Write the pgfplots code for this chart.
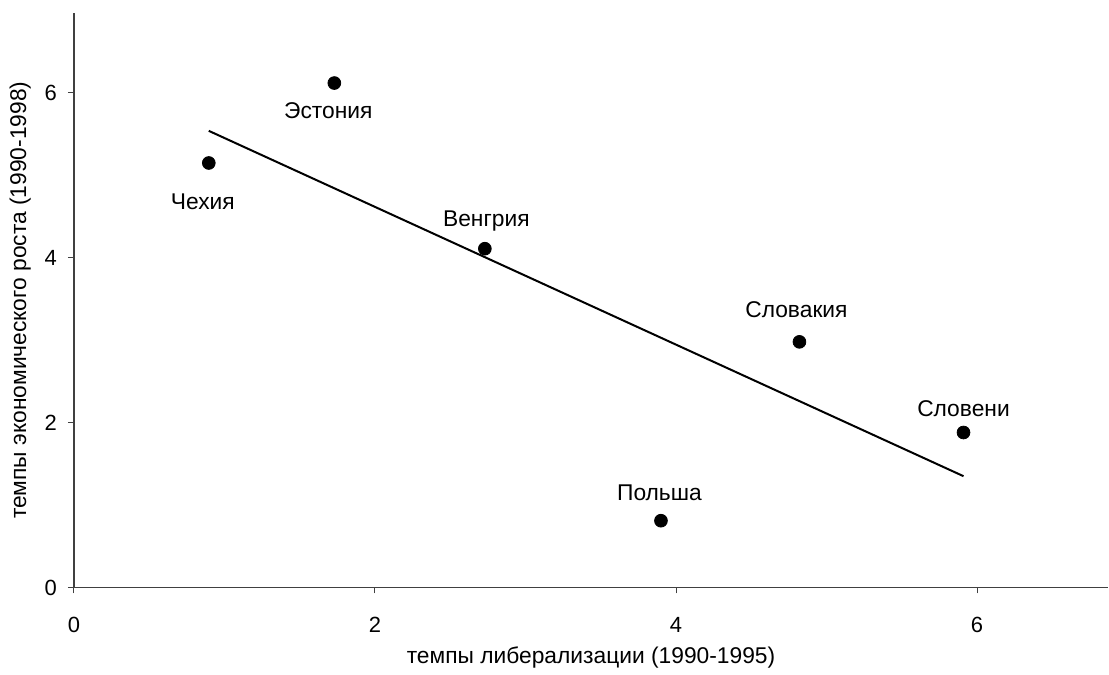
\documentclass[border=0pt]{standalone}
\usepackage{fontspec}
\setmainfont{Liberation Sans}
\usepackage{pgfplots}
\pgfplotsset{compat=1.18}
\begin{document}
\begin{tikzpicture}
\begin{axis}[
 scale only axis, width=517.5pt, height=287.5pt,
 xmin=0, xmax=6.87, ymin=0, ymax=6.97,
 axis lines=left,
 axis line style={-, black!75, line width=0.6pt},
 tick align=outside, major tick length=3pt,
 xtick={0,2,4,6}, ytick={0,2,4,6},
 tick style={black!75, line width=0.5pt},
 /pgf/number format/assume math mode=true,
 ticklabel style={font=\fontsize{11}{13}\selectfont},
 xticklabel style={yshift=-8.5pt},
 yticklabel style={xshift=-2pt},
 xlabel={темпы либерализации (1990-1995)},
 ylabel={темпы экономического роста (1990-1998)},
 label style={font=\fontsize{11.4}{13}\selectfont},
 clip=false,
]
\addplot[only marks, mark=*, mark size=3.2pt, black] coordinates {
 (0.896,5.15) (1.73,6.12) (2.73,4.11) (4.82,2.98) (5.91,1.88) (3.90,0.81)
};
\addplot[black, line width=1pt] coordinates {(0.896,5.54) (5.91,1.35)};
\node[font=\fontsize{11.4}{13}\selectfont] at (axis cs:0.856,4.68) {Чехия};
\node[font=\fontsize{11.4}{13}\selectfont] at (axis cs:1.69,5.79) {Эстония};
\node[font=\fontsize{11.4}{13}\selectfont] at (axis cs:2.74,4.44) {Венгрия};
\node[font=\fontsize{11.4}{13}\selectfont] at (axis cs:4.80,3.37) {Словакия};
\node[font=\fontsize{11.4}{13}\selectfont] at (axis cs:5.91,2.17) {Словени};
\node[font=\fontsize{11.4}{13}\selectfont] at (axis cs:3.89,1.15) {Польша};
\end{axis}
\path ([xshift=-37pt,yshift=-43.5pt]current axis.south west);
\path ([xshift=0.5pt,yshift=6.5pt]current axis.north east);
\end{tikzpicture}
\end{document}
